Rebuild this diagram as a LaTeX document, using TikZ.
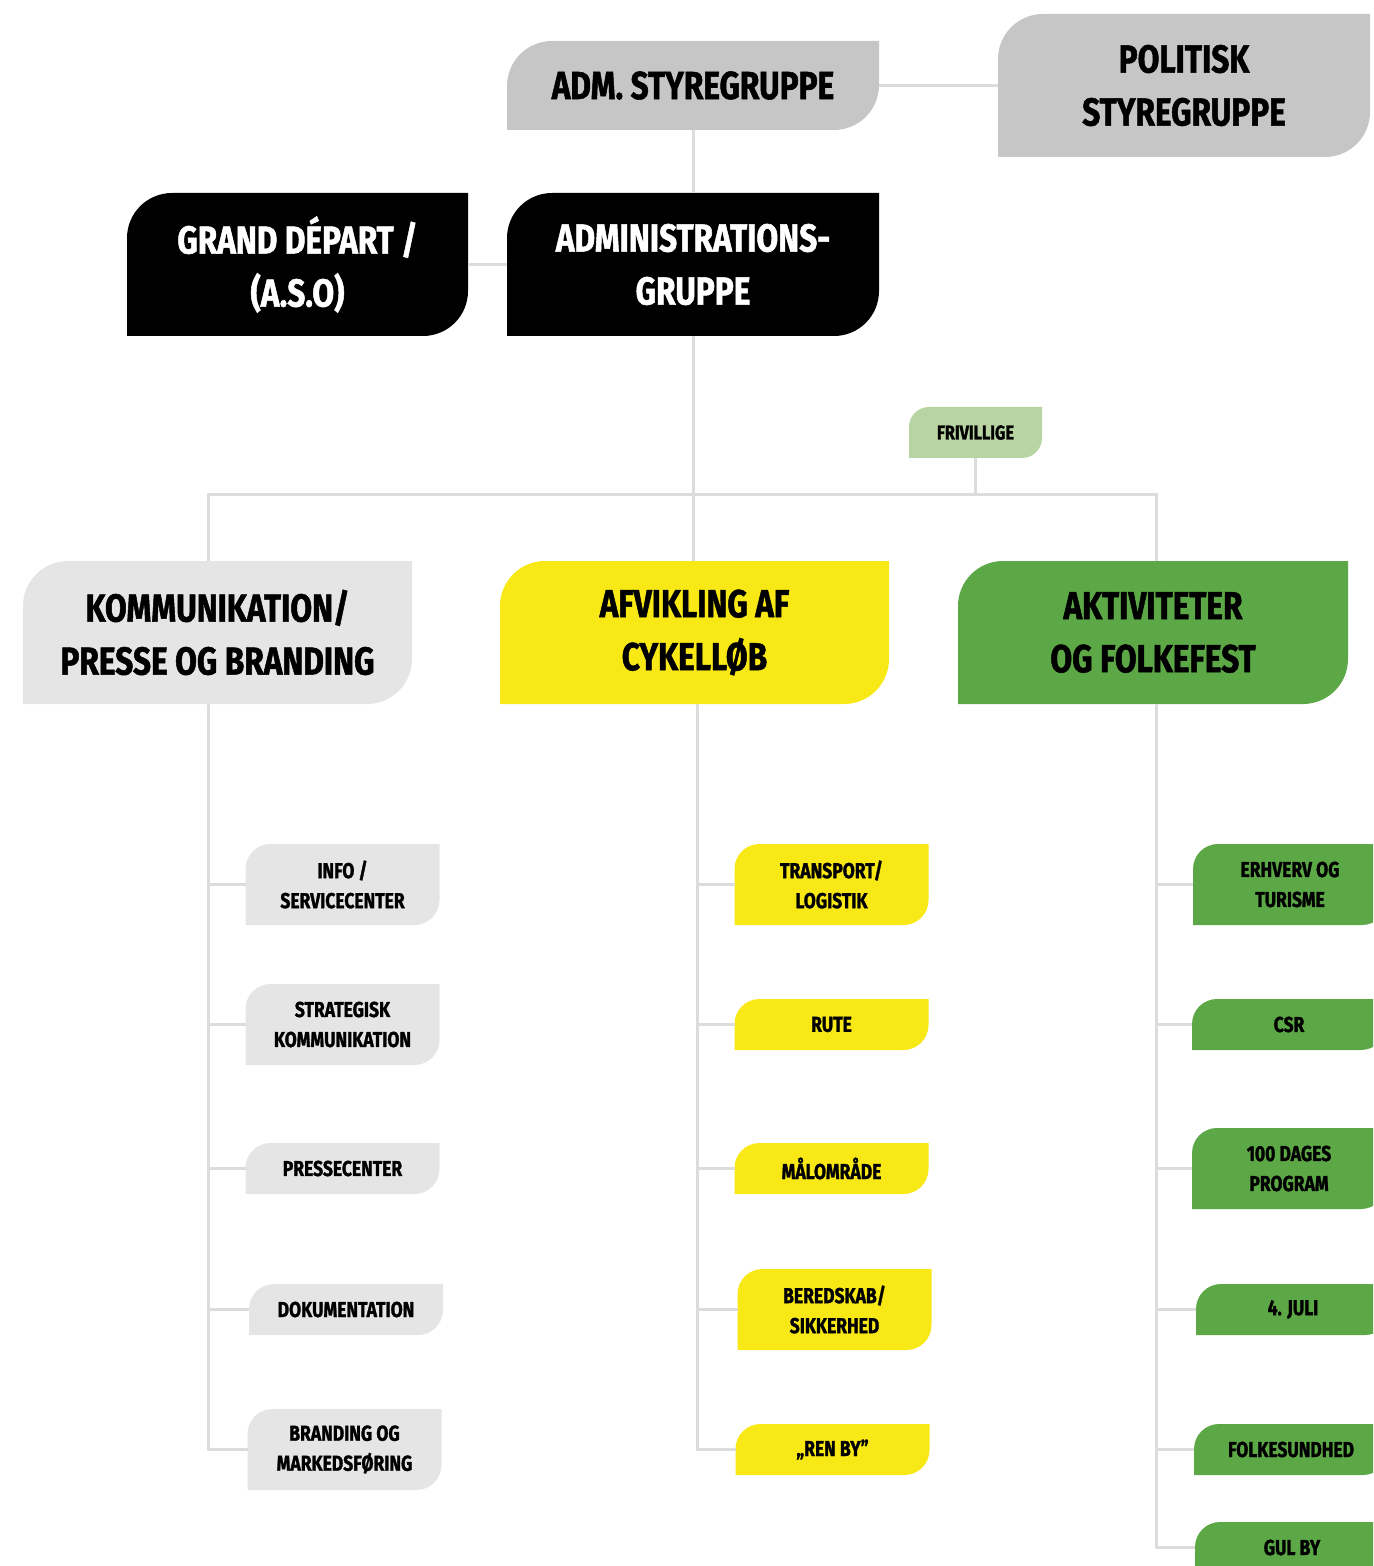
\documentclass[tikz,border=0pt]{standalone}
\usepackage{fontspec}
\setmainfont{Fira Sans}[FakeStretch=0.81, BoldFeatures={FakeBold=1.3}]

\definecolor{admgrey}{HTML}{C6C6C6}
\definecolor{kommgrey}{HTML}{E5E5E5}
\definecolor{cykelyellow}{HTML}{F7E816}
\definecolor{folkegreen}{HTML}{5DA846}
\definecolor{frivgreen}{HTML}{B8D4A3}
\definecolor{linegrey}{HTML}{DCDCDC}

\tikzset{
	orgunit/.style 2 args={rectangle, inner sep=0pt, outer sep=0pt, align=center,
		path picture={\fill[#1] (path picture bounding box.south west)
			-- ([yshift=-#2]path picture bounding box.north west)
			arc[start angle=180, end angle=90, radius=#2]
			-- (path picture bounding box.north east)
			-- ([yshift=#2]path picture bounding box.south east)
			arc[start angle=0, end angle=-90, radius=#2]
			-- cycle;}},
	top/.style={orgunit={#1}{22.5pt}, font=\bfseries\fontsize{19.5}{26.5}\selectfont,
		minimum width=186pt, minimum height=71.5pt},
	sub/.style={orgunit={#1}{12.5pt}, font=\bfseries\fontsize{10.8}{15}\selectfont,
		minimum width=97pt, minimum height=40.5pt},
	subone/.style={sub=#1, minimum height=25.5pt},
	conn/.style={draw=linegrey, line width=1.5pt}
}

\begin{document}
\begin{tikzpicture}[x=0.5pt, y=-0.5pt]
	\useasboundingbox (0,0) rectangle (1373,1566);
	\clip (0,0) rectangle (1373,1566);
	% top
	\node[top=admgrey, minimum height=44.5pt] (adm) at (693,85.5) {ADM. STYREGRUPPE};
	\node[top=admgrey] (politisk) at (1184,85.5) {POLITISK\\STYREGRUPPE};
	\node[top=black, text=white, minimum width=170.5pt] (grand) at (297.5,264.5) {GRAND DÉPART /\\(A.S.O)};
	\node[top=black, text=white] (admin) at (693,264.5) {ADMINISTRATIONS-\\GRUPPE};
	\node[orgunit={frivgreen}{10pt}, font=\bfseries\fontsize{10}{12}\selectfont,
		minimum width=66.5pt, minimum height=25.5pt] (friv) at (975.5,432.5) {FRIVILLIGE};
	% areas
	\node[top=kommgrey, minimum width=194.5pt] (komm) at (217.5,632.5) {KOMMUNIKATION/\\PRESSE OG BRANDING};
	\node[top=cykelyellow, minimum width=194.5pt] (afv) at (694.5,632.5) {AFVIKLING AF\\CYKELLØB};
	\node[top=folkegreen, minimum width=195pt] (akt) at (1153,632.5) {AKTIVITETER\\OG FOLKEFEST};
	% kommunikation
	\node[sub=kommgrey] (info) at (342.5,884.5) {INFO /\\SERVICECENTER};
	\node[sub=kommgrey] (strat) at (342.5,1024.5) {STRATEGISK\\KOMMUNIKATION};
	\node[subone=kommgrey] (presse) at (342.5,1168.5) {PRESSECENTER};
	\node[subone=kommgrey] (dok) at (346,1309.5) {DOKUMENTATION};
	\node[sub=kommgrey] (brand) at (344.5,1449.5) {BRANDING OG\\MARKEDSFØRING};
	% cykelløb
	\node[sub=cykelyellow] (transp) at (831.5,884.5) {TRANSPORT/\\LOGISTIK};
	\node[subone=cykelyellow] (rute) at (831.5,1024.5) {RUTE};
	\node[subone=cykelyellow] (malo) at (831.5,1168.5) {MÅLOMRÅDE};
	\node[sub=cykelyellow] (bered) at (834.5,1309.5) {BEREDSKAB/\\SIKKERHED};
	\node[subone=cykelyellow] (renby) at (832.5,1449.5) {„REN BY”};
	% folkefest
	\node[sub=folkegreen] (erhv) at (1290,884.5) {ERHVERV OG\\TURISME};
	\node[subone=folkegreen] (csr) at (1289,1024.5) {CSR};
	\node[sub=folkegreen] (dage) at (1289,1168.5) {100 DAGES\\PROGRAM};
	\node[subone=folkegreen] (juli) at (1293,1309.5) {4. JULI};
	\node[subone=folkegreen] (folke) at (1291,1449.5) {FOLKESUNDHED};
	\node[subone=folkegreen] (gulby) at (1292,1547.5) {GUL BY};
	% lines
	\coordinate (busw) at (208,495);
	\coordinate (buse) at (1156,495);
	\coordinate (trunkm) at (697,704);
	\draw[conn] (adm) -- (politisk);
	\draw[conn] (adm) -- (admin);
	\draw[conn] (grand) -- (admin);
	\draw[conn] (admin.south) -- (admin.south |- afv.north);
	\draw[conn] (busw |- komm.north) -- (busw) -- (buse) -- (buse |- akt.north);
	\draw[conn] (friv) -- (friv |- buse);
	\foreach \n in {info,strat,presse,dok}
		\draw[conn] (\n.west) -- (\n.west -| busw);
	\draw[conn] (brand.west) -| (busw |- komm.south);
	\foreach \n in {transp,rute,malo,bered}
		\draw[conn] (\n.west) -- (\n.west -| trunkm);
	\draw[conn] (renby.west) -| (trunkm);
	\foreach \n in {erhv,csr,dage,juli,folke}
		\draw[conn] (\n.west) -- (\n.west -| buse);
	\draw[conn] (gulby.west) -| (buse |- akt.south);
\end{tikzpicture}
\end{document}
